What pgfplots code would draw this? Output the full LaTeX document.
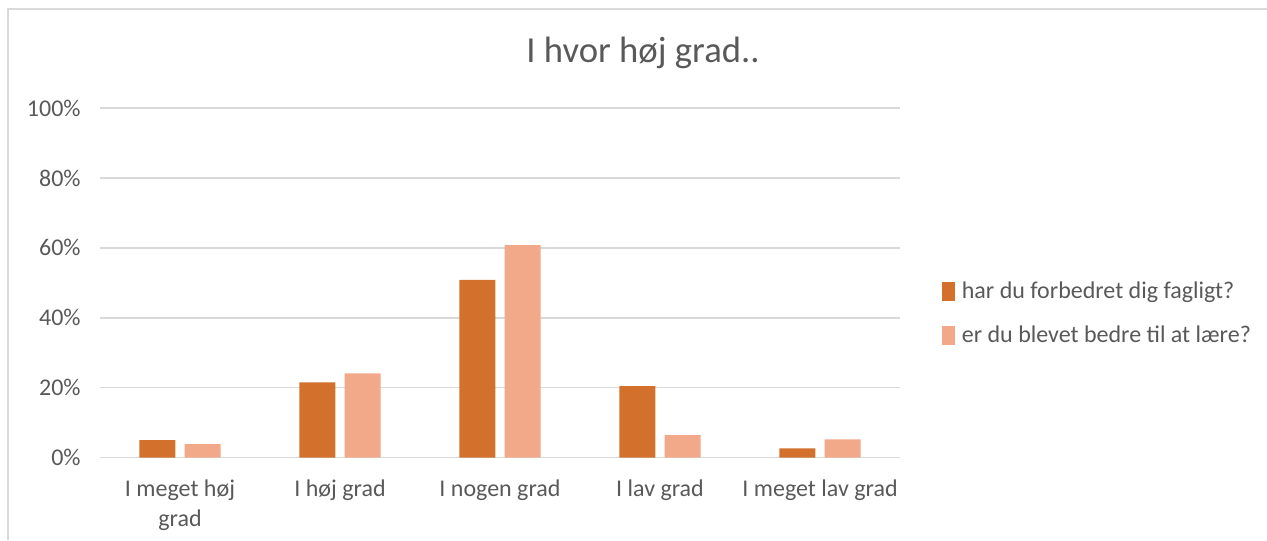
\documentclass[border=0pt]{standalone}
\usepackage{pgfplots}
\pgfplotsset{compat=1.18}
\usepackage{fontspec}
\setmainfont{Carlito}
\definecolor{darkor}{HTML}{D2702C}
\definecolor{lightor}{HTML}{F1A98A}
\definecolor{gridc}{HTML}{D9D9D9}
\definecolor{txt}{HTML}{595959}
\begin{document}
\begin{tikzpicture}
\path[use as bounding box] (0pt,0pt) rectangle (950.25pt,405pt);
\draw[gridc, line width=1.2pt] (6pt,0pt) -- (6pt,398.25pt) -- (950.25pt,398.25pt);
\node[txt, font=\fontsize{27.5}{33}\selectfont] at (482.25pt,365.5pt) {I hvor høj grad..};
\begin{axis}[
  at={(75pt,61.875pt)}, anchor=south west,
  scale only axis, width=600pt, height=262.1pt,
  xmin=-0.5, xmax=4.5, ymin=0, ymax=100,
  ybar, bar width=27pt,
  axis line style={draw=none},
  axis x line*=bottom,
  x axis line style={draw=gridc, line width=1.2pt},
  ytick={0,20,40,60,80,100},
  yticklabels={0\%,20\%,40\%,60\%,80\%,100\%},
  xtick={0,1,2,3,4},
  xticklabels={{I meget høj\\grad},I høj grad,I nogen grad,I lav grad,I meget lav grad},
  major tick length=0pt,
  ymajorgrids, grid style={gridc, line width=1.2pt},
  tick label style={txt, font=\fontsize{18}{22.5}\selectfont},
  xticklabel style={align=center, anchor=north, yshift=-13pt},
  yticklabel style={xshift=-11pt},
  legend style={draw=none, at={(1.052,0.412)}, anchor=west, font=\fontsize{18}{22}\selectfont, text=txt, row sep=15pt, inner sep=0pt},
  legend cell align=left,
  legend image code/.code={\fill[#1] (0pt,-7pt) rectangle (10pt,7pt); \path (13pt,0pt);},
]
\addplot[fill=darkor, draw=none, bar shift=-16.9pt] coordinates {(0,5.0) (1,21.5) (2,50.8) (3,20.4) (4,2.6)};
\addplot[fill=lightor, draw=none, bar shift=16.9pt] coordinates {(0,3.8) (1,24.1) (2,60.8) (3,6.4) (4,5.2)};
\legend{har du forbedret dig fagligt?, er du blevet bedre til at lære?}
\end{axis}
\end{tikzpicture}
\end{document}
